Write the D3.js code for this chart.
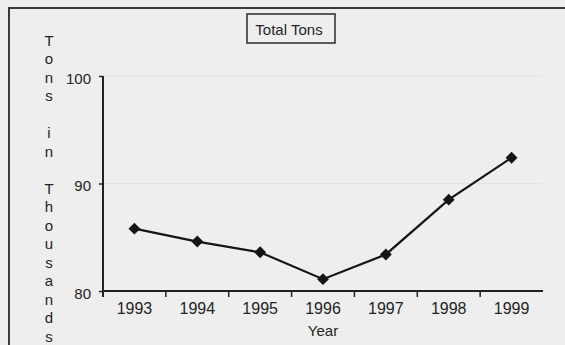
<!DOCTYPE html>
<html>
<head>
<meta charset="utf-8">
<script src="https://cdn.jsdelivr.net/npm/d3@7"></script>
<style>
  body { margin: 0; background: #eeeeee; }
  text { font-family: "Liberation Sans", Arial, sans-serif; fill: #242424; }
</style>
</head>
<body>
<div id="container"></div>
<script>
let years = ['1993', '1994', '1995', '1996', '1997', '1998', '1999'],
  tons = [85.8, 84.6, 83.6, 81.1, 83.4, 88.5, 92.4],
  yTicks = [80, 90, 100],
  title = 'Total Tons',
  yLabel = 'Tons in Thousands',
  xLabel = 'Year'

let width = 565,
  height = 345,
  plot = { left: 103, right: 543, top: 76, bottom: 291 },
  font = '"Liberation Sans", Arial, sans-serif'

let svg = d3.select('#container')
  .append('svg')
  .attr('width', width)
  .attr('height', height)

svg.append('rect')
  .attr('width', width)
  .attr('height', height)
  .style('fill', '#eeeeee')

// outer frame (only left and top edges visible)
svg.append('path')
  .attr('d', 'M9,' + height + 'V8H' + width)
  .style('fill', 'none')
  .style('stroke', '#3a3a3a')
  .style('stroke-width', 2)

// scales
let x = d3.scaleBand()
  .domain(years)
  .range([plot.left, plot.right])
  .padding(0)

let y = d3.scaleLinear()
  .domain([80, 100])
  .range([plot.bottom, plot.top])

// faint gridlines
svg.append('g').selectAll('line')
  .data(yTicks.filter(d => d > 80)).enter().append('line')
  .attr('x1', plot.left)
  .attr('x2', plot.right)
  .attr('y1', d => y(d))
  .attr('y2', d => y(d))
  .style('stroke', '#d8d8d8')
  .style('stroke-width', 1)
  .style('stroke-dasharray', '1,1')

// y axis
let yAxis = d3.axisLeft(y)
  .tickValues(yTicks)
  .tickSize(4)
  .tickPadding(8)
  .tickSizeOuter(0)

let gy = svg.append('g')
  .attr('transform', 'translate(' + plot.left + ',0)')
  .call(yAxis)
gy.select('.domain').remove()
gy.selectAll('line').style('stroke', '#222').style('stroke-width', 1.5)
gy.selectAll('text')
  .attr('dy', '0.48em')
  .style('font-size', '15px').style('font-family', font).style('fill', '#242424')

svg.append('line')
  .attr('x1', plot.left).attr('x2', plot.left)
  .attr('y1', y(100)).attr('y2', y(80) + 6)
  .style('stroke', '#222')
  .style('stroke-width', 2)

// x axis: labels at band centres, ticks at band edges
let xAxis = d3.axisBottom(x)
  .tickSize(0)
  .tickPadding(12)

let gx = svg.append('g')
  .attr('transform', 'translate(0,' + plot.bottom + ')')
  .call(xAxis)
gx.select('.domain').remove()
gx.selectAll('text').style('font-size', '16px').style('font-family', font).style('fill', '#242424')

svg.append('line')
  .attr('x1', plot.left).attr('x2', plot.right)
  .attr('y1', plot.bottom).attr('y2', plot.bottom)
  .style('stroke', '#222')
  .style('stroke-width', 2)

svg.append('g').selectAll('line')
  .data(years.slice(1)).enter().append('line')
  .attr('x1', d => x(d)).attr('x2', d => x(d))
  .attr('y1', plot.bottom).attr('y2', plot.bottom + 6)
  .style('stroke', '#222')
  .style('stroke-width', 1.5)

// series line
let line = d3.line()
  .x((d, i) => x(years[i]) + x.bandwidth() / 2)
  .y(d => y(d))

svg.append('path')
  .datum(tons)
  .attr('d', line)
  .style('fill', 'none')
  .style('stroke', '#151515')
  .style('stroke-width', 2.2)

svg.append('g').selectAll('path')
  .data(tons).enter().append('path')
  .attr('d', d3.symbol().type(d3.symbolDiamond2).size(90))
  .attr('transform', (d, i) => 'translate(' + (x(years[i]) + x.bandwidth() / 2) + ',' + y(d) + ')')
  .style('fill', '#151515')

// title box
svg.append('rect')
  .attr('x', 247).attr('y', 14)
  .attr('width', 88).attr('height', 29)
  .style('fill', 'none')
  .style('stroke', '#2a2a2a')
  .style('stroke-width', 1.5)
svg.append('text')
  .attr('x', 289).attr('y', 35)
  .style('text-anchor', 'middle')
  .style('font-size', '15px')
  .text(title)

// stacked y label
svg.append('g').selectAll('text')
  .data(yLabel.split('')).enter().append('text')
  .attr('x', 49)
  .attr('y', (d, i) => 45.5 + i * 18.5)
  .style('text-anchor', 'middle')
  .style('font-size', '15px')
  .text(d => d)

// x label
svg.append('text')
  .attr('x', (plot.left + plot.right) / 2)
  .attr('y', 336)
  .style('text-anchor', 'middle')
  .style('font-size', '15px')
  .text(xLabel)
</script>
</body>
</html>
